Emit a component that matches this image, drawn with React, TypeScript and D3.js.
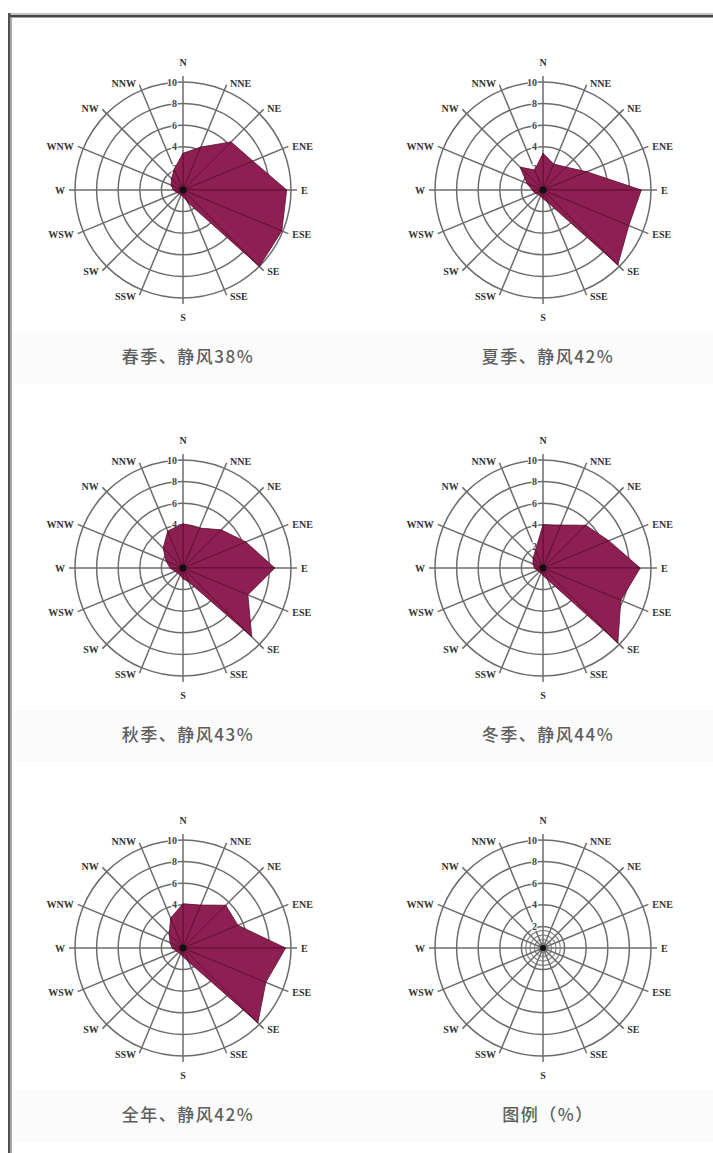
import React from "react";
import * as d3 from "d3";

// ---------- data ----------
const directions = ["N", "NNE", "NE", "ENE", "E", "ESE", "SE", "SSE", "S", "SSW", "SW", "WSW", "W", "WNW", "NW", "NNW"];
const tickValues = [2, 4, 6, 8, 10];
const legendInnerRings = [0.4, 0.8, 1.2, 1.6];

const springValues = [3.4, 4.3, 6.3, 7.0, 9.6, 9.9, 10.0, 1.3, 0.6, 0.5, 0.5, 0.6, 0.9, 1.2, 1.5, 2.1];
const summerValues = [3.4, 2.6, 3.0, 4.4, 9.1, 8.6, 9.8, 1.3, 0.8, 0.6, 0.6, 0.8, 1.0, 1.6, 3.0, 2.0];
const autumnValues = [4.1, 4.0, 5.0, 6.3, 8.5, 6.5, 9.0, 1.4, 1.0, 0.7, 0.7, 0.8, 1.2, 1.7, 2.6, 3.7];
const winterValues = [4.0, 4.3, 5.6, 6.6, 9.0, 7.8, 9.8, 1.2, 0.7, 0.5, 0.5, 0.6, 0.8, 1.0, 1.3, 1.8];
const annualValues = [4.1, 4.3, 5.6, 5.5, 9.5, 8.3, 9.8, 1.4, 0.8, 0.6, 0.6, 0.7, 1.0, 1.3, 1.8, 3.0];

const panelTitles = ["春季、静风38%", "夏季、静风42%", "秋季、静风43%", "冬季、静风44%", "全年、静风42%", "图例（%）"];
const panelSeries: (number[] | null)[] = [springValues, summerValues, autumnValues, winterValues, annualValues, null];

// ---------- layout ----------
const W = 713;
const H = 1153;
const colX = [183, 543];
const rowY = [190, 568, 948];
const titleOffset = 164;
const R = 108;
const spokeR = 114;

const rScale = d3.scaleLinear().domain([0, 10]).range([0, R]);
const angle = (i: number) => (i * 2 * Math.PI) / directions.length;

const GRID = "#6c6c6c";
const FILL = "#8e1f52";
const EDGE = "#5a0c2e";

function Rose({ cx, cy, values, title }: { cx: number; cy: number; values: number[] | null; title: string }) {
  const pts = values
    ? values.map((v, i) => {
        const a = angle(i);
        const r = rScale(v);
        return [r * Math.sin(a), -r * Math.cos(a)] as [number, number];
      })
    : [];
  const tri = d3.line();
  return (
    <g transform={`translate(${cx},${cy})`}>
      {/* rings */}
      {tickValues.map((t) => (
        <circle key={t} r={rScale(t)} fill="none" stroke={GRID} strokeWidth={1.5} />
      ))}
      {!values &&
        legendInnerRings.map((t) => (
          <circle key={"in" + t} r={rScale(t)} fill="none" stroke="#8a8a8a" strokeWidth={1.2} />
        ))}
      {/* spokes */}
      {directions.map((d, i) => {
        const a = angle(i);
        return (
          <line
            key={d}
            x1={0}
            y1={0}
            x2={spokeR * Math.sin(a)}
            y2={-spokeR * Math.cos(a)}
            stroke={GRID}
            strokeWidth={1.5}
          />
        );
      })}
      {/* tick labels */}
      {tickValues.map((t) => (
        <text
          key={"t" + t}
          x={-6}
          y={-rScale(t)}
          textAnchor="end"
          dominantBaseline="central"
          fontFamily="'Liberation Serif', serif"
          fontSize={10}
          fontWeight="bold"
          fill="#444"
          stroke="#fff"
          strokeWidth={2}
          paintOrder="stroke"
        >
          {t}
        </text>
      ))}
      {/* data wedges */}
      {values &&
        pts.map((p, i) => {
          const q = pts[(i + 1) % pts.length];
          return (
            <path
              key={"w" + i}
              d={tri([[0, 0], p, q])! + "Z"}
              fill={FILL}
              stroke={EDGE}
              strokeWidth={0.8}
              strokeLinejoin="round"
            />
          );
        })}
      <circle r={values ? 3.5 : 3} fill="#111" />
      {/* direction labels */}
      {directions.map((d, i) => {
        const a = angle(i);
        const s = Math.sin(a);
        const c = Math.cos(a);
        let x: number, y: number, anchor: string;
        if (Math.abs(s) < 1e-6) {
          x = 0;
          y = c > 0 ? -128 : 127;
          anchor = "middle";
        } else {
          x = 115 * s + (s > 0 ? 3 : -3);
          y = -115 * c;
          anchor = s > 0 ? "start" : "end";
        }
        return (
          <text
            key={"l" + d}
            x={x}
            y={y}
            textAnchor={anchor}
            dominantBaseline="central"
            fontFamily="'Liberation Serif', serif"
            fontSize={10}
            fontWeight="bold"
            fill="#333"
          >
            {d}
          </text>
        );
      })}
      <text
        x={5}
        y={titleOffset + 1}
        textAnchor="middle"
        dominantBaseline="central"
        fontFamily="'Noto Sans CJK SC', sans-serif"
        fontSize={17}
        fontWeight={500}
        letterSpacing={1.5}
        fill="#5e5e5e"
      >
        {title}
      </text>
    </g>
  );
}

export default function App() {
  return (
    <svg width={W} height={H} style={{ position: "absolute", left: 0, top: 0 }} xmlns="http://www.w3.org/2000/svg">
      <rect x={0} y={0} width={W} height={H} fill="#fff" />
      {rowY.map((y) => (
        <rect key={"band" + y} x={12} y={y + titleOffset - 22} width={W - 12} height={52} fill="#fbfbfb" />
      ))}
      {/* frame */}
      <rect x={8} y={13} width={W - 8} height={2} fill="#c4c4c4" />
      <rect x={8} y={15} width={W - 8} height={2.5} fill="#454545" />
      <rect x={8} y={13} width={2.5} height={H - 13} fill="#505050" />
      <rect x={10.5} y={17} width={1.5} height={H - 17} fill="#a8a8a8" />
      {panelSeries.map((vals, k) => (
        <Rose
          key={k}
          cx={colX[k % 2]}
          cy={rowY[Math.floor(k / 2)]}
          values={vals}
          title={panelTitles[k]}
        />
      ))}
    </svg>
  );
}
